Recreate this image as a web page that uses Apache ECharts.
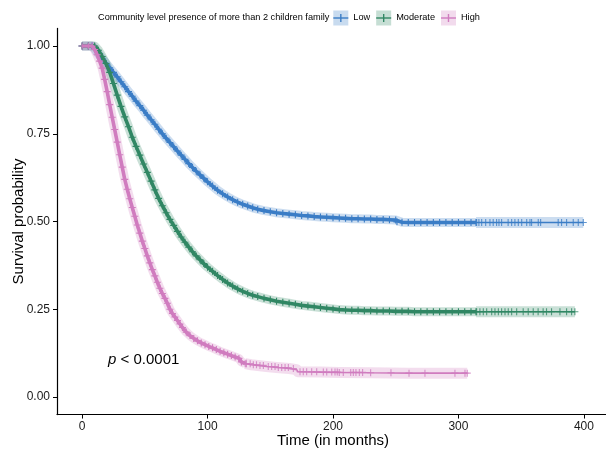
<!DOCTYPE html>
<html><head><meta charset="utf-8">
<script src="https://cdn.jsdelivr.net/npm/echarts@6/dist/echarts.min.js"></script>
<style>html,body{margin:0;padding:0;background:#fff}#c{width:606px;height:449px}</style>
</head><body><div id="c"></div>
<script>
// ---------- data ----------
const groups = ['Low', 'Moderate', 'High'];
const legendTitle = 'Community level presence of more than 2 children family';

const lowTime = [0,5,8,10,13,16,19,22,25,28,31,34,37,40,43,46,49,52,55,58,61,64,67,70,73,76,79,82,85,88,91,94,97,100,104,108,112,116,120,124,128,132,136,140,145,150,155,160,165,170,175,180,185,190,195,200,205,210,215,220,225,230,235,240,245,250,251,255,260,265,270,275,280,285,290,295,300,305,310,314,399.5];
const lowSurv = [1,1,1,0.992,0.978,0.964,0.951,0.938,0.925,0.912,0.898,0.884,0.870,0.857,0.843,0.830,0.817,0.803,0.790,0.777,0.763,0.750,0.737,0.725,0.713,0.701,0.689,0.677,0.665,0.654,0.643,0.633,0.623,0.613,0.601,0.589,0.579,0.570,0.562,0.555,0.549,0.544,0.539,0.535,0.531,0.528,0.525,0.523,0.521,0.519,0.517,0.516,0.514,0.513,0.512,0.511,0.510,0.509,0.508,0.508,0.507,0.507,0.506,0.506,0.505,0.504,0.499,0.498,0.497,0.497,0.497,0.497,0.497,0.497,0.497,0.497,0.497,0.497,0.497,0.497,0.497];
const lowCensor = [314.5,316.3,318.5,321.7,325.1,327.7,330.4,332.3,334.4,339.6,342.4,345,347.7,350.4,354.4,357,358.3,363.6,365.5,379.5,382.2,386.2,391.5,395.5,399.5];

const modTime = [0,5,10,13,16,19,22,25,28,31,34,37,40,43,46,49,52,55,58,61,64,67,70,73,76,79,82,85,88,91,94,97,100,104,108,112,116,120,124,128,132,136,140,145,150,155,160,165,170,175,180,185,190,195,200,205,210,215,220,225,230,235,240,245,250,255,260,265,270,275,280,285,290,295,300,305,310,314,392.8];
const modSurv = [1,1,1,0.988,0.970,0.950,0.925,0.893,0.860,0.828,0.798,0.770,0.740,0.714,0.689,0.664,0.640,0.615,0.590,0.566,0.545,0.525,0.506,0.489,0.472,0.456,0.441,0.427,0.414,0.402,0.391,0.380,0.370,0.358,0.346,0.335,0.325,0.316,0.308,0.301,0.295,0.290,0.286,0.281,0.277,0.273,0.270,0.267,0.264,0.261,0.259,0.257,0.255,0.253,0.251,0.249,0.248,0.247,0.247,0.246,0.246,0.245,0.245,0.245,0.244,0.244,0.244,0.243,0.243,0.243,0.243,0.243,0.243,0.243,0.243,0.243,0.243,0.243,0.243];
const modCensor = [314.5,317.1,319.8,322.5,326.5,329.1,331.8,334.4,337.1,339.7,342.4,346.4,351.6,355.6,359.6,363.5,367.5,370.2,374.2,380.9,386.2,390.2,392.8];

const highTime = [0,5,8,10,12,14,16,18,20,22,24,26,28,30,32,34,36,38,40,42,44,46,48,50,52,54,56,58,60,62,64,66,68,70,72,74,76,78,80,83,86,89,92,95,98,101,104,107,110,113,116,119,122,125,127,130,135,140,147,155,165,171,172,190,205,230,260,307];
const highSurv = [1,1,1,0.99,0.975,0.957,0.937,0.905,0.87,0.833,0.797,0.762,0.726,0.69,0.655,0.62,0.592,0.565,0.54,0.515,0.49,0.467,0.444,0.423,0.402,0.382,0.363,0.345,0.327,0.31,0.295,0.281,0.267,0.250,0.238,0.228,0.218,0.208,0.198,0.185,0.175,0.167,0.160,0.154,0.149,0.144,0.140,0.135,0.130,0.126,0.122,0.118,0.114,0.110,0.100,0.095,0.092,0.090,0.087,0.084,0.081,0.078,0.072,0.071,0.070,0.069,0.068,0.068];
const highCensor = [131,134,136.5,139,141.8,144.5,148.4,151.1,153.8,156.4,159.1,161.8,164.4,168.4,173.7,176.3,179,183,187,192.3,195,199,201.6,203.4,205,208.2,214.1,216.2,218.3,221,223.6,230,246.2,260.6,273.3,297.2,305.2,307];

const xTicks = [0, 100, 200, 300, 400];
const yTicks = [0, 0.25, 0.5, 0.75, 1];
const pText = 'p';
const pRest = ' < 0.0001';

// ---------- styling ----------
const colors = ['#3B7DC6', '#318764', '#D07CBF'];
const FONT = '"Liberation Sans", Arial, sans-serif';
const plus = 'path://M0,4.2H10V5.8H0Z M4.2,0H5.8V10H4.2Z';

function pairs(t, s) { return t.map((x, i) => [x, s[i]]); }
function stepAt(t, s, x) { let v = s[0]; for (let i = 0; i < t.length; i++) { if (t[i] <= x) v = s[i]; } return v; }

const curves = [
  { t: lowTime, s: lowSurv, c: lowCensor },
  { t: modTime, s: modSurv, c: modCensor },
  { t: highTime, s: highSurv, c: highCensor }
];

function parts(cv) {
  const all = pairs(cv.t, cv.s);
  const split = cv.c[0];                          // densely censored part ends where single marks begin
  const dense = all.filter(p => p[0] <= split);
  const tail = [dense[dense.length - 1]].concat(all.filter(p => p[0] > split));
  return { all, dense, tail };
}

const series = [];
curves.forEach((cv, i) => {
  const pr = parts(cv);
  series.push({
    type: 'line', data: pr.dense, symbol: 'none', silent: true, z: 1,
    lineStyle: { width: 9, color: colors[i], opacity: 0.26, cap: 'butt', join: 'round' }
  });
  series.push({
    type: 'line', data: pr.tail, symbol: 'none', silent: true, z: 1,
    lineStyle: { width: 11, color: colors[i], opacity: 0.26, cap: 'butt', join: 'round' }
  });
});
curves.forEach((cv, i) => {
  const pr = parts(cv);
  series.push({
    name: groups[i], type: 'line', data: pr.dense, z: 3 + i,
    symbol: plus, symbolSize: 7, showSymbol: true, symbolKeepAspect: true,
    itemStyle: { color: colors[i] },
    lineStyle: { width: 3.6, color: colors[i] }
  });
  series.push({
    type: 'line', data: pr.tail, z: 3 + i, symbol: 'none',
    lineStyle: { width: 1.6, color: colors[i] }
  });
  series.push({
    type: 'scatter', data: cv.c.map(x => [x, stepAt(cv.t, cv.s, x)]), z: 3 + i,
    symbol: plus, symbolSize: 7, itemStyle: { color: colors[i] }
  });
});

// ---------- legend (graphic) ----------
const ctx = document.createElement('canvas').getContext('2d');
function tw(str, size) { ctx.font = size + 'px ' + FONT; return ctx.measureText(str).width; }
const lgY = 18, lgSize = 9.2;
const graphic = [];
let lx = 98;
graphic.push({ type: 'text', left: lx, top: lgY - 5.5, style: { text: legendTitle, font: lgSize + 'px ' + FONT, fill: '#000' } });
lx += tw(legendTitle, lgSize) + 4;
groups.forEach((g, i) => {
  const box = 15;
  graphic.push({ type: 'rect', shape: { x: lx, y: lgY - box / 2, width: box, height: box }, style: { fill: colors[i], opacity: 0.28 } });
  graphic.push({ type: 'rect', shape: { x: lx, y: lgY - 0.7, width: box, height: 1.4 }, style: { fill: colors[i] } });
  graphic.push({ type: 'rect', shape: { x: lx + box / 2 - 0.7, y: lgY - 4, width: 1.4, height: 8 }, style: { fill: colors[i] } });
  lx += box + 5;
  graphic.push({ type: 'text', left: lx, top: lgY - 5.5, style: { text: g, font: lgSize + 'px ' + FONT, fill: '#000' } });
  lx += tw(g, lgSize) + 6;
});
graphic.push({
  type: 'text', left: 108, top: 352,
  style: { text: '{i|' + pText + '}' + pRest, font: '15px ' + FONT, fill: '#000',
    rich: { i: { fontStyle: 'italic', fontSize: 15, fontFamily: FONT } } }
});

const chart = echarts.init(document.getElementById('c'), null, { renderer: 'canvas' });
chart.setOption({
  animation: false,
  backgroundColor: '#fff',
  grid: { left: 57, top: 28.45, width: 552, height: 386.1, containLabel: false, outerBoundsMode: 'none' },
  xAxis: {
    type: 'value', min: -20, max: 420,
    name: 'Time (in months)', nameLocation: 'middle', nameGap: 19, nameMoveOverlap: false,
    nameTextStyle: { fontSize: 15, fontFamily: FONT, color: '#000' },
    axisLine: { show: true, onZero: false, lineStyle: { color: '#000', width: 1.2 } },
    axisTick: { show: true, length: 4, customValues: xTicks, lineStyle: { color: '#000', width: 1 } },
    axisLabel: { customValues: xTicks, fontSize: 12, fontFamily: FONT, color: '#1a1a1a', margin: 6 },
    splitLine: { show: false }
  },
  yAxis: {
    type: 'value', min: -0.05, max: 1.05,
    name: 'Survival probability', nameLocation: 'middle', nameGap: 31, nameMoveOverlap: false,
    nameTextStyle: { fontSize: 15, fontFamily: FONT, color: '#000' },
    axisLine: { show: true, onZero: false, lineStyle: { color: '#000', width: 1.2 } },
    axisTick: { show: true, length: 4, customValues: yTicks, lineStyle: { color: '#000', width: 1 } },
    axisLabel: { customValues: yTicks, fontSize: 12, fontFamily: FONT, color: '#1a1a1a', margin: 7,
      formatter: v => v.toFixed(2) },
    splitLine: { show: false }
  },
  graphic: graphic,
  series: series
});
</script>
</body></html>
